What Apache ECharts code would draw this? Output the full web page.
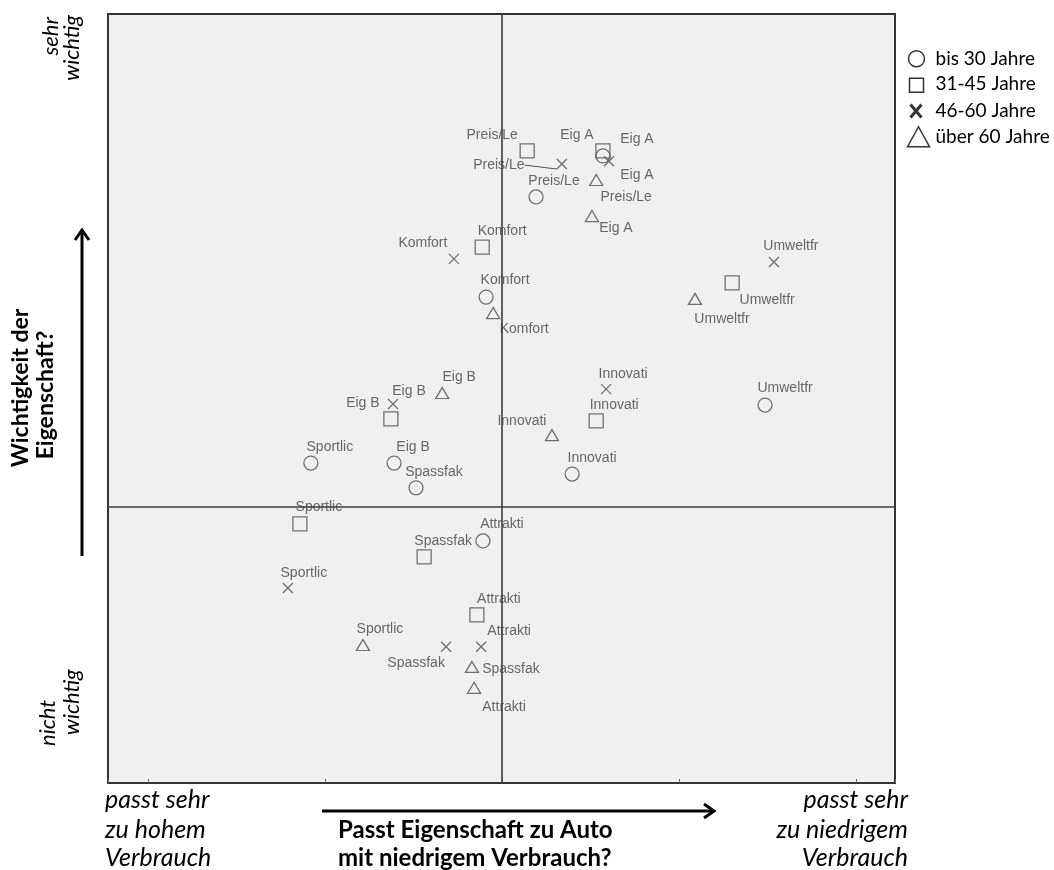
<!DOCTYPE html>
<html>
<head>
<meta charset="utf-8">
<script src="https://cdn.jsdelivr.net/npm/echarts@6/dist/echarts.min.js"></script>
<style>html,body{margin:0;padding:0;background:#fff;}#c{width:1054px;height:870px;}</style>
</head>
<body>
<div id="c"></div>
<script>
// ---- data ----
var attributes = ['Preis/Le','Eig A','Komfort','Umweltfr','Eig B','Innovati','Sportlic','Spassfak','Attrakti'];
var groups = ['bis 30 Jahre','31-45 Jahre','46-60 Jahre','über 60 Jahre'];
var bis30 = [[0.096,0.876],[0.285,0.992],[-0.045,0.593],[0.743,0.288],[-0.305,0.124],[0.198,0.093],[-0.540,0.124],[-0.243,0.054],[-0.054,-0.096]];
var j31_45 = [[0.071,1.006],[0.285,1.006],[-0.056,0.734],[0.650,0.633],[-0.314,0.249],[0.266,0.243],[-0.571,-0.048],[-0.220,-0.141],[-0.071,-0.305]];
var j46_60 = [[0.169,0.969],[0.302,0.977],[-0.136,0.701],[0.768,0.692],[-0.308,0.291],[0.294,0.333],[-0.605,-0.229],[-0.158,-0.395],[-0.059,-0.395]];
var ueber60 = [[0.266,0.924],[0.254,0.822],[-0.025,0.548],[0.545,0.588],[-0.169,0.322],[0.141,0.203],[-0.393,-0.390],[-0.085,-0.452],[-0.079,-0.511]];

// ---- label layout (pixel offsets, separate from data) ----
var offBis30 = [[18,-16],[34,-17],[19,-17],[20,-17],[19,-16],[20,-16],[19,-16],[18,-16],[19,-17]];
var off31_45 = [[-35,-16],[-26,-16],[20,-16],[35,17],[-28,-16],[18,-16],[19,-17],[19,-16],[22,-16]];
var off46_60 = [[-63,1],[28,14],[-31,-16],[17,-16],[16,-13],[17,-15],[16,-15],[-30,16],[28,-16]];
var offUeber60 = [[30,17],[24,12],[31,16],[27,20],[17,-16],[-30,-14],[17,-16],[39,2],[30,19]];
var leaderIndex46_60 = 0;

var MARK = '#505050';
var LBL = {show:true, position:'inside', fontFamily:'Liberation Sans, Arial, sans-serif', fontSize:14, color:'#444',
  formatter:function(p){return p.data.name;}};

function build(vals, offs){
  return vals.map(function(v,i){
    var d = {name:attributes[i], value:v};
    if (offs) d.label = {offset:offs[i]};
    return d;
  });
}
var X_PATH = 'path://M0,0L10,10M10,0L0,10';

var data46 = build(j46_60, null);
data46[leaderIndex46_60].labelLine = {show:true};

var ITALIC = 'italic 25px Lato';
var BOLD = 'bold 24px Lato';

var chart = echarts.init(document.getElementById('c'));
var option = {
  animation:false,
  backgroundColor:'#fff',
  grid:{left:108, right:159, top:14, bottom:87, show:true, backgroundColor:'#f0f0f0', borderColor:'#333', borderWidth:2},
  xAxis:{type:'value', min:-1.113, max:1.110, axisLine:{show:false, onZero:false}, splitLine:{show:false},
    axisLabel:{show:false}, axisTick:{show:true, inside:true, length:4, lineStyle:{color:'#666'}}},
  yAxis:{type:'value', min:-0.780, max:1.393, axisLine:{show:false, onZero:false}, splitLine:{show:false},
    axisLabel:{show:false}, axisTick:{show:false}},
  legend:{
    orient:'vertical', left:900, top:42, itemWidth:24, itemHeight:22, itemGap:2,
    textStyle:{fontFamily:'Lato, sans-serif', fontSize:19, color:'#000'},
    data:[
      {name:groups[0], icon:'path://M0,0M24,22M2,11a8,8 0 1,0 16,0a8,8 0 1,0 -16,0', itemStyle:{color:'transparent', borderColor:'#000', borderWidth:1.5}},
      {name:groups[1], icon:'path://M0,0M24,22M3,5h14v14h-14Z', itemStyle:{color:'transparent', borderColor:'#000', borderWidth:1.5}},
      {name:groups[2], icon:'path://M0,0M24,22M4,5L15,18M15,5L4,18', itemStyle:{color:'transparent', borderColor:'#000', borderWidth:3}},
      {name:groups[3], icon:'path://M0,0M24,22M1,21L12,1L23,21Z', itemStyle:{color:'transparent', borderColor:'#000', borderWidth:1.5}}
    ]
  },
  series:[
    {name:groups[0], type:'scatter', symbol:'circle', symbolSize:14, data:build(bis30, offBis30),
      itemStyle:{color:'transparent', borderColor:MARK, borderWidth:1.3}, label:LBL,
      markLine:{silent:true, symbol:'none', label:{show:false}, lineStyle:{color:'#3c3c3c', width:1.6, type:'solid'},
        data:[{xAxis:0},{yAxis:0}]}},
    {name:groups[1], type:'scatter', symbol:'rect', symbolSize:14, data:build(j31_45, off31_45),
      itemStyle:{color:'transparent', borderColor:MARK, borderWidth:1.3}, label:LBL},
    {name:groups[2], type:'scatter', symbol:X_PATH, symbolSize:10, data:data46,
      itemStyle:{color:'transparent', borderColor:MARK, borderWidth:1.3}, label:LBL,
      labelLine:{show:false, lineStyle:{color:'#555', width:1}},
      labelLayout:function(p){ var o = off46_60[p.dataIndex]; return {dx:o[0], dy:o[1]}; }},
    {name:groups[3], type:'scatter', symbol:'triangle', symbolSize:[13,11], data:build(ueber60, offUeber60),
      itemStyle:{color:'transparent', borderColor:MARK, borderWidth:1.3}, label:LBL}
  ],
  graphic:[
    // left side texts
    {type:'text', x:51, y:17, rotation:Math.PI/2, style:{text:'sehr', font:'italic 22px Lato', fill:'#000', align:'right', verticalAlign:'middle'}},
    {type:'text', x:72, y:15, rotation:Math.PI/2, style:{text:'wichtig', font:'italic 22px Lato', fill:'#000', align:'right', verticalAlign:'middle'}},
    {type:'text', x:48, y:746, rotation:Math.PI/2, style:{text:'nicht', font:'italic 22px Lato', fill:'#000', align:'left', verticalAlign:'middle'}},
    {type:'text', x:72, y:735, rotation:Math.PI/2, style:{text:'wichtig', font:'italic 22px Lato', fill:'#000', align:'left', verticalAlign:'middle'}},
    {type:'text', x:21, y:388, rotation:Math.PI/2, style:{text:'Wichtigkeit der', font:'bold 23px Lato', fill:'#000', align:'center', verticalAlign:'middle'}},
    {type:'text', x:46, y:395, rotation:Math.PI/2, style:{text:'Eigenschaft?', font:'bold 23px Lato', fill:'#000', align:'center', verticalAlign:'middle'}},
    {type:'line', shape:{x1:82, y1:556, x2:82, y2:230}, style:{stroke:'#000', lineWidth:3}},
    {type:'polyline', shape:{points:[[75,240],[82,230],[89,240]]}, style:{stroke:'#000', lineWidth:3, fill:null}},
    // bottom texts
    {type:'text', x:105, y:800, style:{text:'passt sehr', font:ITALIC, fill:'#000', align:'left', verticalAlign:'middle'}},
    {type:'text', x:105, y:830, style:{text:'zu hohem', font:ITALIC, fill:'#000', align:'left', verticalAlign:'middle'}},
    {type:'text', x:105, y:858, style:{text:'Verbrauch', font:ITALIC, fill:'#000', align:'left', verticalAlign:'middle'}},
    {type:'text', x:908, y:800, style:{text:'passt sehr', font:ITALIC, fill:'#000', align:'right', verticalAlign:'middle'}},
    {type:'text', x:908, y:830, style:{text:'zu niedrigem', font:ITALIC, fill:'#000', align:'right', verticalAlign:'middle'}},
    {type:'text', x:908, y:858, style:{text:'Verbrauch', font:ITALIC, fill:'#000', align:'right', verticalAlign:'middle'}},
    {type:'text', x:338, y:830, style:{text:'Passt Eigenschaft zu Auto', font:BOLD, fill:'#000', align:'left', verticalAlign:'middle'}},
    {type:'text', x:338, y:858, style:{text:'mit niedrigem Verbrauch?', font:BOLD, fill:'#000', align:'left', verticalAlign:'middle'}},
    {type:'line', shape:{x1:322, y1:811, x2:714, y2:811}, style:{stroke:'#000', lineWidth:3}},
    {type:'polyline', shape:{points:[[704,804],[714,811],[704,818]]}, style:{stroke:'#000', lineWidth:3, fill:null}}
  ]
};
chart.setOption(option);
</script>
</body>
</html>
